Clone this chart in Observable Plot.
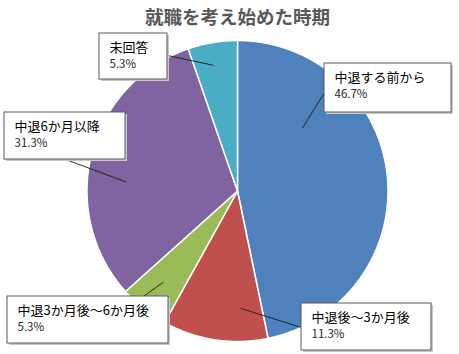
<!DOCTYPE html>
<html><head><meta charset="utf-8">
<script src="https://cdn.jsdelivr.net/npm/d3@7"></script>
<script src="https://cdn.jsdelivr.net/npm/@observablehq/plot@0.6"></script>
<style>body{margin:0;background:#fff;} svg{display:block;}</style>
</head><body><div id="chart"></div>
<script>
// ---- data ----
const title = "就職を考え始めた時期";
const categories = ["中退する前から", "中退後～3か月後", "中退3か月後～6か月後", "中退6か月以降", "未回答"];
const values = [46.7, 11.3, 5.3, 31.3, 5.3];

// ---- style / layout ----
const colors = ["#4F81BD", "#C0504D", "#9BBB59", "#8064A2", "#4BACC6"];
const W = 459, H = 354;
const cx = 237, cy = 190.5, R = 150.5;
const boxes = [[324, 63, 451, 112], [301, 303, 431, 350], [7, 296, 168, 343], [4, 112, 125, 159], [99, 33, 167, 79]];
const leaderOuter = [[324, 92], [301, 327], [143, 296], [65, 159], [167, 55]];
const leaderInnerPolar = [[45.9, 0.6], [178.5, 0.78], [219.1, 0.78], [274.6, 0.74], [349.2, 0.85]];
const font = "'Noto Sans CJK JP', 'Noto Sans', sans-serif";

const pt = (deg, r) => [cx + r * Math.sin(deg * Math.PI / 180), cy - r * Math.cos(deg * Math.PI / 180)];

const total = d3.sum(values);
const arcs = d3.pie().sort(null).value(d => d)(values);
const slicePts = [];
arcs.forEach((a, i) => {
  const a0 = a.startAngle * 180 / Math.PI, a1 = a.endAngle * 180 / Math.PI;
  const n = Math.max(2, Math.ceil((a1 - a0) / 0.5));
  slicePts.push({name: categories[i], x: cx, y: cy});
  for (let k = 0; k <= n; k++) {
    const [x, y] = pt(a0 + (a1 - a0) * k / n, R);
    slicePts.push({name: categories[i], x, y});
  }
  slicePts.push({name: categories[i], x: cx, y: cy});
});

const labels = categories.map((c, i) => {
  const [x1, y1, x2, y2] = boxes[i];
  const [ix, iy] = pt(leaderInnerPolar[i][0], leaderInnerPolar[i][1] * R);
  return {name: c, pct: values[i].toFixed(1) + "%", x1, y1, x2, y2,
    lx1: leaderOuter[i][0], ly1: leaderOuter[i][1], lx2: ix, ly2: iy};
});

const chart = Plot.plot({
  width: W, height: H,
  margin: 0,
  style: {fontFamily: font, background: "#fff"},
  x: {domain: [0, W], range: [0, W], axis: null},
  y: {domain: [0, H], range: [0, H], axis: null},
  color: {domain: categories, range: colors},
  marks: [
    Plot.line(slicePts, {x: "x", y: "y", z: "name", fill: "name", stroke: "#fff", strokeWidth: 1.5, strokeLinejoin: "round", curve: "linear"}),
    Plot.link(labels, {x1: "lx1", y1: "ly1", x2: "lx2", y2: "ly2", stroke: "#1a1a1a", strokeWidth: 0.9}),
    Plot.rect(labels, {x1: d => d.x1 + 2, y1: d => d.y1 + 2, x2: d => d.x2 + 2, y2: d => d.y2 + 2, fill: "#c8c8c8"}),
    Plot.rect(labels, {x1: "x1", y1: "y1", x2: "x2", y2: "y2", fill: "#fff", stroke: "#595959", strokeWidth: 1}),
    Plot.text(labels, {x: d => d.x1 + 10, y: d => d.y1 + 14, text: "name", textAnchor: "start", fontSize: 13, fill: "#000", lineAnchor: "middle"}),
    Plot.text(labels, {x: d => d.x1 + 10, y: d => d.y1 + 31, text: "pct", textAnchor: "start", fontSize: 11.5, fill: "#262626", lineAnchor: "middle"}),
    Plot.text([title], {x: cx, y: 18, text: d => d, fontSize: 18.5, fontWeight: "bold", fill: "#595959", lineAnchor: "middle"})
  ]
});
document.getElementById("chart").appendChild(chart);
</script>
</body></html>
